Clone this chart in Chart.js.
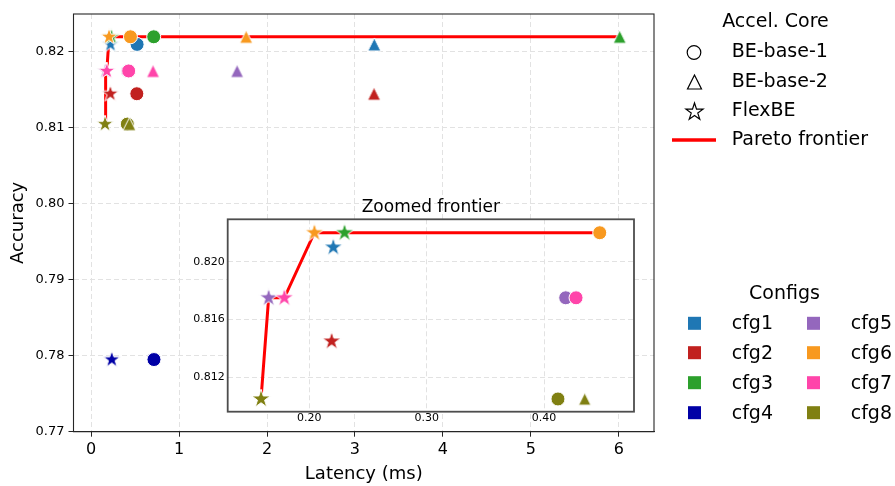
<!DOCTYPE html>
<html><head><meta charset="utf-8">
<script src="https://cdn.jsdelivr.net/npm/chart.js@4/dist/chart.umd.min.js"></script>
<style>
html,body{margin:0;padding:0;background:#fff;}
#wrap{position:relative;width:895px;height:486px;overflow:hidden;}
#main{position:absolute;left:0;top:0;}
#inset{position:absolute;left:180px;top:195px;}
</style></head><body>
<div id="wrap">
<canvas id="main" width="895" height="486" style="width:895px;height:486px"></canvas>
<canvas id="inset" width="470" height="240" style="width:470px;height:240px"></canvas>
</div>
<script>
// ---------------- data ----------------
const configs = ['cfg1','cfg2','cfg3','cfg4','cfg5','cfg6','cfg7','cfg8'];
const configColors = ['#1f77b4','#c1211f','#2ca02c','#0000a6','#9467bd','#f8991f','#ff45aa','#808012'];
const coreNames = ['BE-base-1','BE-base-2','FlexBE'];

// BE-base-1 (circles)
const circleLatency  = [0.523, 0.52, 0.712, 0.715, 0.4185, 0.4475, 0.4273, 0.4119];
const circleAccuracy = [0.821, 0.8145, 0.822, 0.7795, 0.8175, 0.822, 0.8175, 0.8105];
// BE-base-2 (triangles)
const triangleLatency  = [3.22, 3.217, 6.01, null, 1.66, 1.763, 0.704, 0.4347];
const triangleAccuracy = [0.821, 0.8145, 0.822, null, 0.8175, 0.822, 0.8175, 0.8105];
// FlexBE (stars)
const starLatency  = [0.2204, 0.219, 0.230, 0.235, 0.1653, 0.2043, 0.1787, 0.1588];
const starAccuracy = [0.821, 0.8145, 0.822, 0.7795, 0.8175, 0.822, 0.8175, 0.8105];
// Pareto frontier
const frontierLatency  = [0.1588, 0.1653, 0.1787, 0.2043, 0.230, 0.4475, 0.712, 1.763, 6.01];
const frontierAccuracy = [0.8105, 0.8175, 0.8175, 0.822, 0.822, 0.822, 0.822, 0.822, 0.822];

// ticks
const xTicks = [0,1,2,3,4,5,6];
const yTicks = [0.77,0.78,0.79,0.80,0.81,0.82];
const insetXTicks = [0.20,0.30,0.40];
const insetYTicks = [0.812,0.816,0.820];
const insetLatencyMax = 0.4767;

// ---------------- helpers ----------------
Chart.defaults.font.family = '"DejaVu Sans", sans-serif';
Chart.defaults.color = '#000';

function starPath(g, cx, cy, R){
  g.beginPath();
  for (let k=0;k<10;k++){
    const r = (k%2===0) ? R : R*0.381966;
    const a = -Math.PI/2 + k*Math.PI/5;
    const px = cx + r*Math.cos(a), py = cy + r*Math.sin(a);
    if (k===0) g.moveTo(px,py); else g.lineTo(px,py);
  }
  g.closePath();
}
function triPath(g, cx, cy, s){
  g.beginPath();
  g.moveTo(cx, cy - s/2);
  g.lineTo(cx - s/2, cy + s/2);
  g.lineTo(cx + s/2, cy + s/2);
  g.closePath();
}
function starImg(color, R){
  const size = Math.ceil(2*R)+4;
  const c = document.createElement('canvas'); c.width=size; c.height=size;
  const g = c.getContext('2d');
  starPath(g, size/2, size/2, R);
  g.fillStyle=color; g.fill();
  g.lineWidth=1; g.strokeStyle='#fff'; g.stroke();
  return c;
}
function triImg(color, s){
  const size = Math.ceil(s)+4;
  const c = document.createElement('canvas'); c.width=size; c.height=size;
  const g = c.getContext('2d');
  triPath(g, size/2, size/2, s);
  g.fillStyle=color; g.fill();
  g.lineWidth=1; g.strokeStyle='#fff'; g.stroke();
  return c;
}
function coreDataset(lat, acc, style, size, order){
  const idx = configs.map((_,i)=>i).filter(i=>lat[i]!=null);
  const ds = { data: idx.map(i=>({x:lat[i], y:acc[i]})), order: order };
  if (style==='circle'){
    ds.pointStyle='circle'; ds.pointRadius=size; ds.pointHoverRadius=size;
    ds.backgroundColor=idx.map(i=>configColors[i]);
    ds.borderColor='#ffffff'; ds.borderWidth=1; ds.hoverBorderWidth=1;
  } else {
    ds.pointStyle = idx.map(i=> style==='star' ? starImg(configColors[i], size) : triImg(configColors[i], size));
    ds.pointRadius = size; ds.pointHoverRadius = size;
  }
  return ds;
}
function frontierDataset(width, maxLatency){
  const idx = frontierLatency.map((_,i)=>i).filter(i=>frontierLatency[i] <= maxLatency);
  return {
    data: idx.map(i=>({x:frontierLatency[i], y:frontierAccuracy[i]})),
    showLine:true, borderColor:'#ff0000', borderWidth:width, pointRadius:0, pointHoverRadius:0,
    fill:false, tension:0, order:10
  };
}
function fixedTicks(arr){ return function(scale){ scale.ticks = arr.map(v=>({value:v})); }; }

// ---------------- main chart ----------------
const mainDecor = {
  id:'mainDecor',
  afterDraw(chart){
    const {ctx, chartArea:a} = chart;
    ctx.save();
    ctx.strokeStyle='#262626'; ctx.lineWidth=1.1;
    ctx.strokeRect(a.left, a.top, a.right-a.left, a.bottom-a.top);

    ctx.fillStyle='#000';
    ctx.textBaseline='middle';
    ctx.font='19px "DejaVu Sans", sans-serif';
    // legend 1: Accel. Core
    ctx.textAlign='center';
    ctx.fillText('Accel. Core', 775.5, 22);
    ctx.textAlign='left';
    const rows = [52.5, 82, 111.5, 140];
    ctx.fillText(coreNames[0], 731.7, rows[0]);
    ctx.fillText(coreNames[1], 731.7, rows[1]);
    ctx.fillText(coreNames[2], 731.7, rows[2]);
    ctx.fillText('Pareto frontier', 731.7, rows[3]);
    ctx.strokeStyle='#000'; ctx.lineWidth=1.2;
    ctx.beginPath(); ctx.arc(694, rows[0], 6.8, 0, Math.PI*2); ctx.stroke();
    triPath(ctx, 694.5, rows[1], 14); ctx.stroke();
    starPath(ctx, 694.5, rows[2]+0.5, 9); ctx.stroke();
    ctx.strokeStyle='#ff0000'; ctx.lineWidth=3.5;
    ctx.beginPath(); ctx.moveTo(672, rows[3]); ctx.lineTo(716, rows[3]); ctx.stroke();

    // legend 2: Configs
    ctx.textAlign='center';
    ctx.fillText('Configs', 784.5, 294);
    ctx.textAlign='left';
    const crow = [323.3, 352.7, 382.7, 412.7];
    configs.forEach((c,i)=>{
      const col = Math.floor(i/4), r = i%4;
      const sx = col===0 ? 694.5 : 813.5;
      const tx = col===0 ? 731.7 : 850.7;
      ctx.fillStyle=configColors[i];
      ctx.fillRect(sx-6.5, crow[r]-6.5, 13, 13);
      ctx.fillStyle='#000';
      ctx.fillText(c, tx, crow[r]+1);
    });
    ctx.restore();
  }
};

new Chart(document.getElementById('main'), {
  type:'scatter',
  data:{ datasets:[
    coreDataset(circleLatency, circleAccuracy, 'circle', 7, 3),
    coreDataset(triangleLatency, triangleAccuracy, 'triangle', 13, 2),
    coreDataset(starLatency, starAccuracy, 'star', 9, 1),
    frontierDataset(3, Infinity)
  ]},
  options:{
    responsive:false, animation:false, devicePixelRatio:1,
    layout:{ padding:{ left:0, top:5, right:241, bottom:0 } },
    plugins:{ legend:{display:false}, tooltip:{enabled:false}, title:{display:false} },
    events:[],
    scales:{
      x:{
        type:'linear', min:-0.2, max:6.4,
        afterBuildTicks: fixedTicks(xTicks),
        afterFit(s){ s.height = 54.3; },
        ticks:{ font:{size:16}, color:'#000', padding:4, callback:v=>String(v) },
        grid:{ color:'#e2e2e2', lineWidth:1, tickColor:'#262626', tickLength:5, tickWidth:1, tickBorderDash:[] },
        border:{ display:true, color:'#262626', width:1, dash:[5,3] },
        title:{ display:true, text:'Latency (ms)', font:{size:18}, color:'#000', padding:{top:0,bottom:1} }
      },
      y:{
        type:'linear', min:0.77, max:0.825,
        afterBuildTicks: fixedTicks(yTicks),
        afterFit(s){ s.width = 73.5; },
        ticks:{ font:{size:13}, color:'#000', padding:4, callback:v=>v.toFixed(2) },
        grid:{ color:'#e2e2e2', lineWidth:1, tickColor:'#262626', tickLength:5, tickWidth:1, tickBorderDash:[] },
        border:{ display:true, color:'#262626', width:1, dash:[5,3] },
        title:{ display:true, text:'Accuracy', font:{size:18}, color:'#000', padding:{top:8,bottom:0} }
      }
    }
  },
  plugins:[mainDecor]
});

// ---------------- inset chart ----------------
const insetDecor = {
  id:'insetDecor',
  beforeDraw(chart){
    const {ctx, chartArea:a} = chart;
    ctx.save(); ctx.fillStyle='#ffffff';
    ctx.fillRect(a.left, a.top, a.right-a.left, a.bottom-a.top);
    ctx.restore();
  },
  afterDraw(chart){
    const {ctx, chartArea:a} = chart;
    ctx.save();
    ctx.strokeStyle='#4d4d4d'; ctx.lineWidth=1.8;
    ctx.strokeRect(a.left, a.top, a.right-a.left, a.bottom-a.top);
    ctx.fillStyle='#000'; ctx.textAlign='center'; ctx.textBaseline='middle';
    ctx.font='17px "DejaVu Sans", sans-serif';
    ctx.fillText('Zoomed frontier', (a.left+a.right)/2, 12.5);
    ctx.restore();
  }
};

new Chart(document.getElementById('inset'), {
  type:'scatter',
  data:{ datasets:[
    coreDataset(circleLatency, circleAccuracy, 'circle', 7, 3),
    coreDataset(triangleLatency, triangleAccuracy, 'triangle', 12.5, 2),
    coreDataset(starLatency, starAccuracy, 'star', 9.8, 1),
    frontierDataset(3, insetLatencyMax)
  ]},
  options:{
    responsive:false, animation:false, devicePixelRatio:1,
    layout:{ padding:{ left:0, top:24.3, right:16, bottom:0 } },
    plugins:{ legend:{display:false}, tooltip:{enabled:false}, title:{display:false} },
    events:[],
    scales:{
      x:{
        type:'linear', min:0.1304, max:insetLatencyMax,
        afterBuildTicks: fixedTicks(insetXTicks),
        afterFit(s){ s.height = 23.3; },
        ticks:{ font:{size:11}, color:'#000', padding:0, callback:v=>v.toFixed(2) },
        grid:{ color:'#e2e2e2', lineWidth:1, drawTicks:false },
        border:{ display:false, dash:[5,3] }
      },
      y:{
        type:'linear', min:0.80962, max:0.82293,
        afterBuildTicks: fixedTicks(insetYTicks),
        afterFit(s){ s.width = 47.7; },
        ticks:{ font:{size:11}, color:'#000', padding:3, callback:v=>v.toFixed(3) },
        grid:{ color:'#e2e2e2', lineWidth:1, drawTicks:false },
        border:{ display:false, dash:[5,3] }
      }
    }
  },
  plugins:[insetDecor]
});
</script>
</body></html>
